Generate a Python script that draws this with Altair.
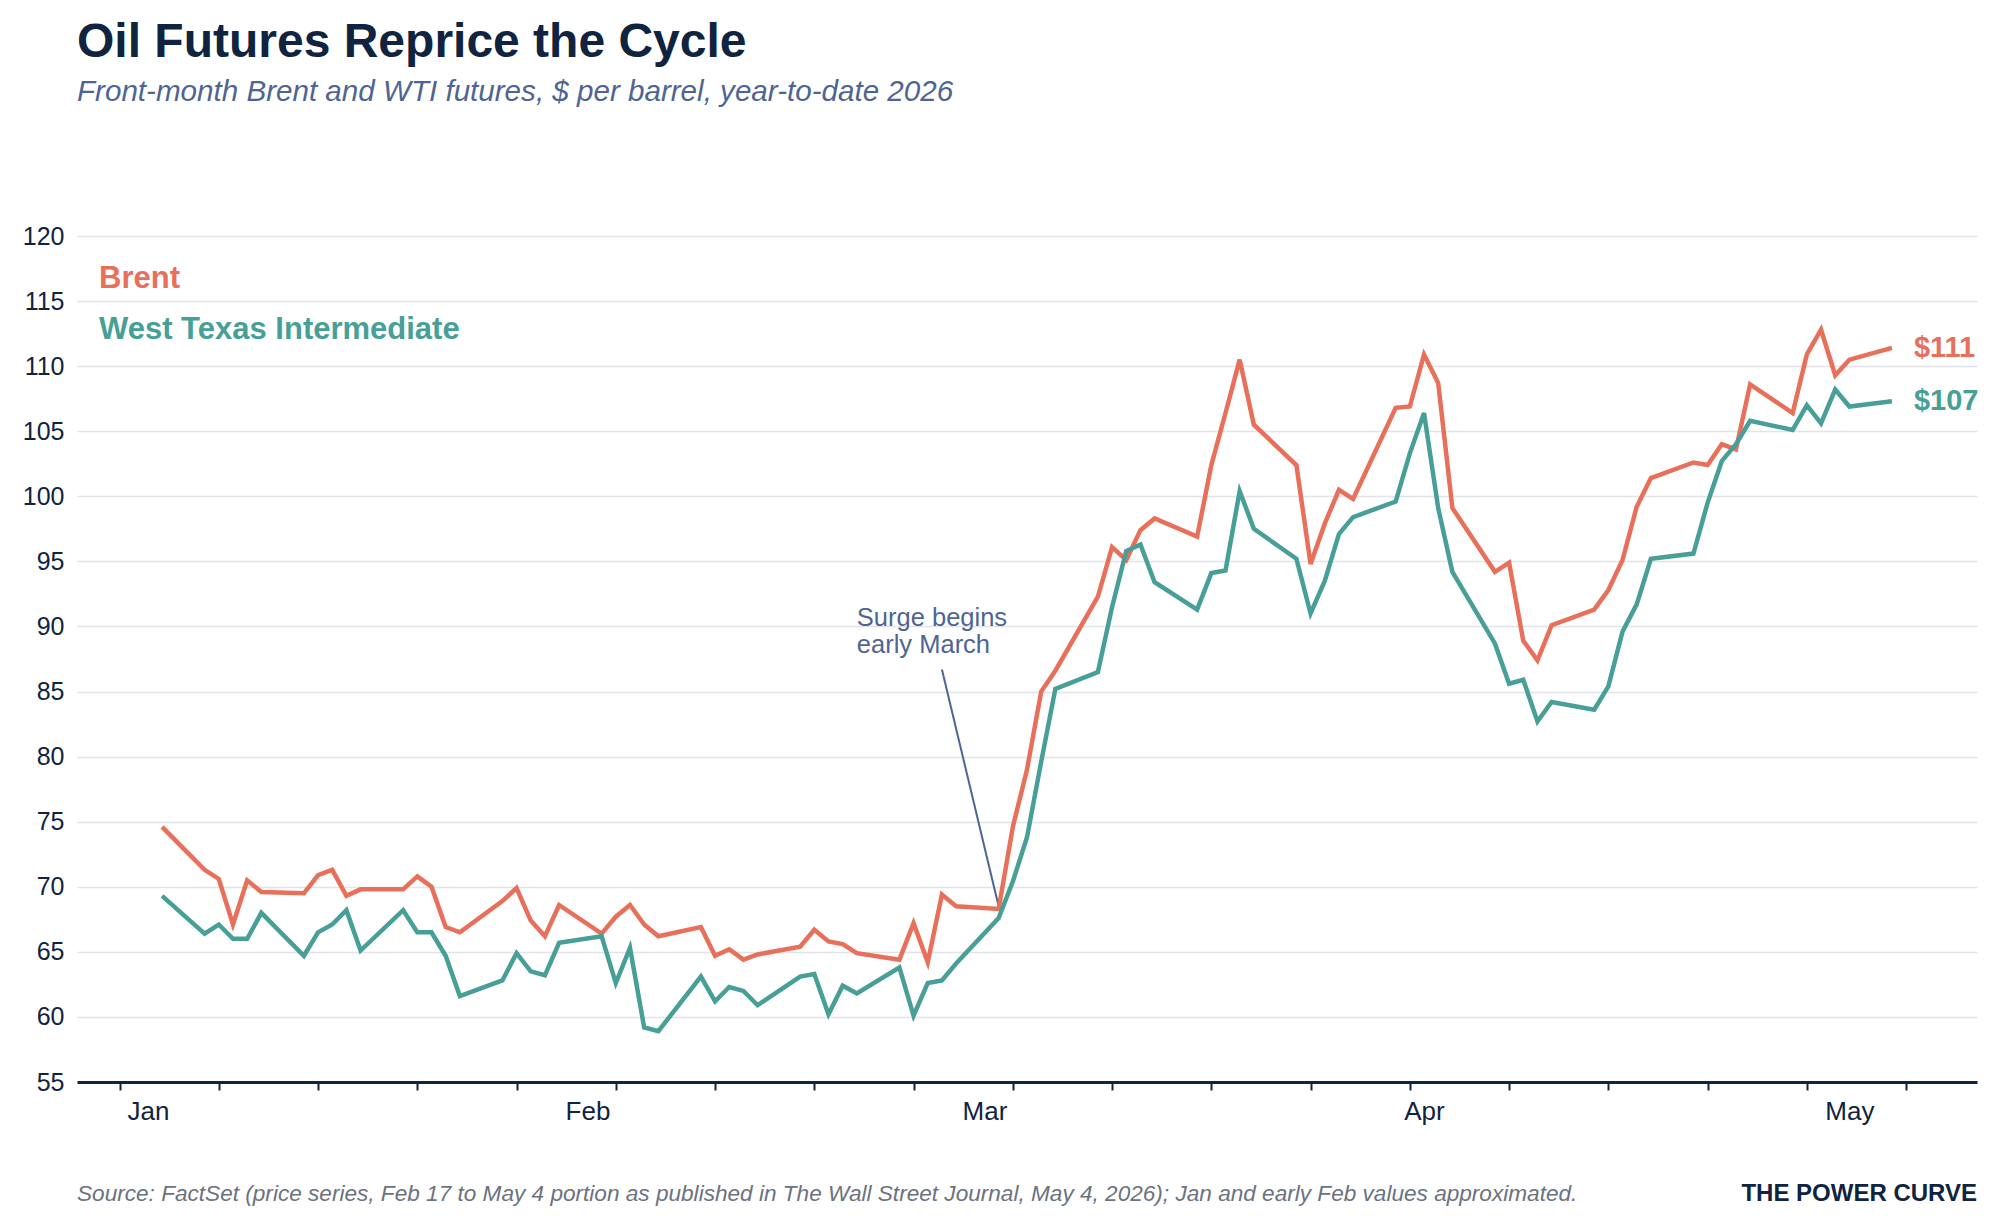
import altair as alt
import pandas as pd

FONT = "Liberation Sans"
NAVY = "#10243f"
SLATE = "#4e6594"
GREY = "#6b7280"
CORAL = "#e8705a"
TEAL = "#479f97"
GRID = "#e2e4e9"

# ---- data ----
dates = [
    "2026-01-02", "2026-01-05", "2026-01-06", "2026-01-07", "2026-01-08", "2026-01-09",
    "2026-01-12", "2026-01-13", "2026-01-14", "2026-01-15", "2026-01-16",
    "2026-01-19", "2026-01-20", "2026-01-21", "2026-01-22", "2026-01-23",
    "2026-01-26", "2026-01-27", "2026-01-28", "2026-01-29", "2026-01-30",
    "2026-02-02", "2026-02-03", "2026-02-04", "2026-02-05", "2026-02-06",
    "2026-02-09", "2026-02-10", "2026-02-11", "2026-02-12", "2026-02-13",
    "2026-02-16", "2026-02-17", "2026-02-18", "2026-02-19", "2026-02-20",
    "2026-02-23", "2026-02-24", "2026-02-25", "2026-02-26", "2026-02-27",
    "2026-03-02", "2026-03-03", "2026-03-04", "2026-03-05", "2026-03-06",
    "2026-03-09", "2026-03-10", "2026-03-11", "2026-03-12", "2026-03-13",
    "2026-03-16", "2026-03-17", "2026-03-18", "2026-03-19", "2026-03-20",
    "2026-03-23", "2026-03-24", "2026-03-25", "2026-03-26", "2026-03-27",
    "2026-03-30", "2026-03-31", "2026-04-01", "2026-04-02", "2026-04-03",
    "2026-04-06", "2026-04-07", "2026-04-08", "2026-04-09", "2026-04-10",
    "2026-04-13", "2026-04-14", "2026-04-15", "2026-04-16", "2026-04-17",
    "2026-04-20", "2026-04-21", "2026-04-22", "2026-04-23", "2026-04-24",
    "2026-04-27", "2026-04-28", "2026-04-29", "2026-04-30", "2026-05-01",
    "2026-05-04",
]

brent = [
    74.6, 71.3, 70.6, 67.1, 70.5, 69.6,
    69.5, 70.9, 71.3, 69.3, 69.8,
    69.8, 70.8, 70.0, 66.9, 66.5,
    68.9, 69.9, 67.4, 66.2, 68.6,
    66.4, 67.7, 68.6, 67.1, 66.2,
    66.9, 64.7, 65.2, 64.4, 64.8,
    65.4, 66.7, 65.8, 65.6, 64.9,
    64.4, 67.2, 64.2, 69.4, 68.5,
    68.3, 74.6, 79.0, 85.0, 86.6,
    92.3, 96.1, 95.1, 97.4, 98.3,
    96.9, 102.4, 106.4, 110.5, 105.5,
    102.4, 94.8, 97.9, 100.5, 99.8,
    106.8, 106.9, 110.9, 108.7, 99.1,
    94.2, 94.9, 88.9, 87.4, 90.1,
    91.3, 92.8, 95.1, 99.2, 101.4,
    102.6, 102.4, 104.0, 103.6, 108.6,
    106.4, 110.9, 112.8, 109.3, 110.5,
    111.4,
]

wti = [
    69.3, 66.4, 67.1, 66.0, 66.0, 68.0,
    64.7, 66.5, 67.1, 68.2, 65.1,
    68.2, 66.5, 66.5, 64.7, 61.6,
    62.8, 64.9, 63.5, 63.2, 65.7,
    66.2, 62.6, 65.3, 59.2, 58.9,
    63.1, 61.2, 62.3, 62.0, 60.9,
    63.1, 63.3, 60.2, 62.4, 61.8,
    63.8, 60.1, 62.6, 62.8, 64.1,
    67.6, 70.4, 73.8, 79.6, 85.2,
    86.5, 91.5, 95.8, 96.3, 93.4,
    91.3, 94.1, 94.3, 100.4, 97.5,
    95.2, 91.0, 93.5, 97.1, 98.4,
    99.6, 103.3, 106.4, 99.1, 94.2,
    88.7, 85.6, 85.9, 82.7, 84.2,
    83.6, 85.4, 89.6, 91.7, 95.2,
    95.6, 99.5, 102.7, 104.0, 105.8,
    105.1, 107.0, 105.6, 108.2, 106.9,
    107.3,
]

series_names = ["Brent", "West Texas Intermediate"]
series_colors = [CORAL, TEAL]

month_starts = ["2026-01-01", "2026-02-01", "2026-03-01", "2026-04-01", "2026-05-01"]
week_ticks = [d.strftime("%Y-%m-%d") for d in pd.date_range("2025-12-30", "2026-05-05", freq="7D")]
y_ticks = list(range(55, 121, 5))
x_domain = ["2025-12-27", "2026-05-10"]

title_text = "Oil Futures Reprice the Cycle"
subtitle_text = "Front-month Brent and WTI futures, $ per barrel, year-to-date 2026"
source_text = ("Source: FactSet (price series, Feb 17 to May 4 portion as published in "
               "The Wall Street Journal, May 4, 2026); Jan and early Feb values approximated.")
brand_text = "THE POWER CURVE"

annot_lines = ["Surge begins", "early March"]
annot_date = "2026-02-20"
annot_prices = [90.0, 87.95]
pointer = {"date": "2026-02-26", "price": 86.7, "date2": "2026-03-02", "price2": 68.5}


def ms(d):
    return int(pd.Timestamp(d, tz="UTC").timestamp() * 1000)


# ---- tables ----
df = pd.concat([
    pd.DataFrame({"date": dates, "price": brent, "series": series_names[0]}),
    pd.DataFrame({"date": dates, "price": wti, "series": series_names[1]}),
], ignore_index=True)

end_df = pd.DataFrame({
    "date": [dates[-1], dates[-1]],
    "price": [brent[-1], wti[-1]],
    "series": series_names,
    "label": ["$" + str(round(brent[-1])), "$" + str(round(wti[-1]))],
})

annot_df = pd.DataFrame({"date": [annot_date] * 2, "price": annot_prices, "text": annot_lines})
pointer_df = pd.DataFrame([pointer])

W, H = 1900, 846

x_axis = alt.Axis(
    values=[ms(d) for d in week_ticks + month_starts],
    labelExpr="utcdate(datum.value) == 1 ? utcFormat(datum.value, '%b') : ''",
    tickOpacity={"condition": {"test": "utcdate(datum.value) == 1", "value": 0}, "value": 1},
    grid=False, domainColor=NAVY, domainWidth=3, tickColor=NAVY, tickWidth=2, tickSize=8,
    labelFont=FONT, labelFontSize=26, labelColor=NAVY, labelPadding=8,
    labelOverlap=False, labelFlush=False, title=None,
)
y_axis = alt.Axis(
    values=y_ticks, grid=True, gridColor=GRID, gridWidth=1.5, domain=False, ticks=False,
    tickSize=0, labelFont=FONT, labelFontSize=25, labelColor=NAVY, labelPadding=13, title=None,
)

x_enc = alt.X("date:T", scale=alt.Scale(type="utc", domain=[ms(d) for d in x_domain]), axis=x_axis)
y_enc = alt.Y("price:Q", scale=alt.Scale(domain=[55, 120], nice=False, zero=False), axis=y_axis)
color_enc = alt.Color("series:N", scale=alt.Scale(domain=series_names, range=series_colors), legend=None)

lines = alt.Chart(df).mark_line(strokeWidth=4.5).encode(x=x_enc, y=y_enc, color=color_enc)

end_labels = alt.Chart(end_df).mark_text(
    align="left", baseline="middle", dx=22, font=FONT, fontSize=29, fontWeight="bold"
).encode(x="date:T", y="price:Q", text="label:N", color=color_enc)

pointer_rule = alt.Chart(pointer_df).mark_rule(color=SLATE, strokeWidth=2).encode(
    x="date:T", x2="date2:T", y="price:Q", y2="price2:Q"
)

annot_text = alt.Chart(annot_df).mark_text(
    align="left", baseline="alphabetic", font=FONT, fontSize=25.5, color=SLATE
).encode(x="date:T", y="price:Q", text="text:N")

legend_brent = alt.Chart(pd.DataFrame({"t": [series_names[0]]})).mark_text(
    align="left", baseline="middle", font=FONT, fontSize=31, fontWeight="bold", color=CORAL
).encode(text="t:N", x=alt.value(22), y=alt.value(43))

legend_wti = alt.Chart(pd.DataFrame({"t": [series_names[1]]})).mark_text(
    align="left", baseline="middle", font=FONT, fontSize=31, fontWeight="bold", color=TEAL
).encode(text="t:N", x=alt.value(22), y=alt.value(94))

source = alt.Chart(pd.DataFrame({"t": [source_text]})).mark_text(
    align="left", baseline="middle", font=FONT, fontSize=22.6, fontStyle="italic", color=GREY
).encode(text="t:N", x=alt.value(0), y=alt.value(958))

brand = alt.Chart(pd.DataFrame({"t": [brand_text]})).mark_text(
    align="right", baseline="middle", font=FONT, fontSize=24, fontWeight="bold", color=NAVY
).encode(text="t:N", x=alt.value(W), y=alt.value(958))

chart = alt.layer(
    pointer_rule, lines, end_labels, annot_text, legend_brent, legend_wti, source, brand
).properties(
    width=W, height=H,
    title=alt.TitleParams(
        text=title_text, subtitle=subtitle_text, anchor="start", frame="group",
        font=FONT, fontSize=48, fontWeight="bold", color=NAVY,
        subtitleFont=FONT, subtitleFontSize=29.6, subtitleFontStyle="italic",
        subtitleColor=SLATE, subtitlePadding=10.5, offset=117.5,
    ),
    autosize=alt.AutoSizeParams(type="none"),
    padding={"left": 69, "top": 228, "right": 15, "bottom": 135},
).configure(background="white").configure_view(stroke=None)

chart.save("out.html", embed_options={"renderer": "svg", "actions": False})
